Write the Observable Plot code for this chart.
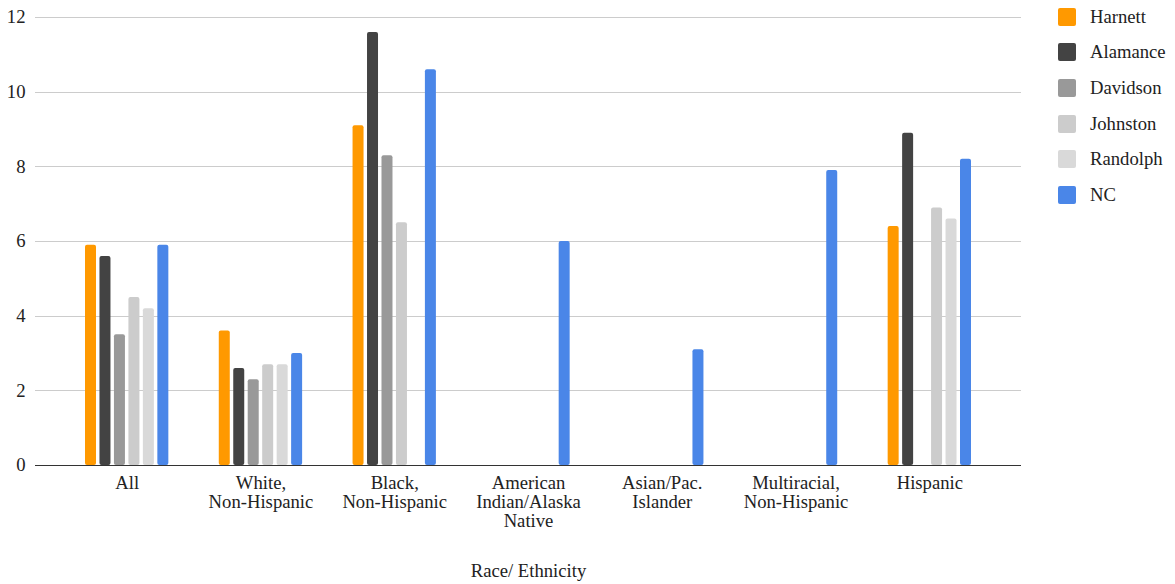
<!DOCTYPE html>
<html><head><meta charset="utf-8">
<script src="https://cdn.jsdelivr.net/npm/d3@7"></script>
<script src="https://cdn.jsdelivr.net/npm/@observablehq/plot@0.6"></script>
<style>
body{margin:0;background:#fff;font-family:"Liberation Serif","Times New Roman",Times,serif;}
#wrap{position:relative;width:1175px;height:584px;}
#legend{position:absolute;left:1058px;top:-1px;}
.item{display:flex;align-items:center;height:35.6px;font-size:18.67px;color:#222;}
.sw{width:18px;height:18px;border-radius:2px;margin-right:14px;}
</style></head><body><div id="wrap"></div>
<script>
const groups = ["All", "White,\nNon-Hispanic", "Black,\nNon-Hispanic", "American\nIndian/Alaska\nNative", "Asian/Pac.\nIslander", "Multiracial,\nNon-Hispanic", "Hispanic"];
const seriesNames = ["Harnett", "Alamance", "Davidson", "Johnston", "Randolph", "NC"];
const colors = ["#ff9900", "#434343", "#999999", "#cccccc", "#d9d9d9", "#4a86e8"];
const harnett  = [5.9, 3.6, 9.1, null, null, null, 6.4];
const alamance = [5.6, 2.6, 11.6, null, null, null, 8.9];
const davidson = [3.5, 2.3, 8.3, null, null, null, null];
const johnston = [4.5, 2.7, 6.5, null, null, null, 6.9];
const randolph = [4.2, 2.7, null, null, null, null, 6.6];
const nc       = [5.9, 3.0, 10.6, 6.0, 3.1, 7.9, 8.2];
const yTicks = [0, 2, 4, 6, 8, 10, 12];
const axisTitle = "Race/ Ethnicity";

const seriesValues = [harnett, alamance, davidson, johnston, randolph, nc];
const rows = [];
seriesNames.forEach((s, i) => {
  seriesValues[i].forEach((v, j) => {
    if (v != null) rows.push({series: s, group: groups[j], value: v});
  });
});

const serif = "'Liberation Serif', 'Times New Roman', Times, serif";
const gridExtend = -50;
const chart = Plot.plot({
  width: 1175, height: 584,
  marginLeft: 85, marginRight: 204, marginTop: 17, marginBottom: 119,
  style: {fontFamily: serif, fontSize: "18.67px", color: "#222", background: "#fff", overflow: "visible"},
  fx: {domain: groups, paddingInner: 0.377, paddingOuter: 0, round: false, label: null},
  x: {domain: seriesNames, paddingInner: 0.24, paddingOuter: 0, round: false, axis: null},
  y: {domain: [0, 12], axis: null},
  color: {domain: seriesNames, range: colors},
  marks: [
    Plot.ruleY(yTicks.filter(d => d > 0), {stroke: "#cccccc", strokeWidth: 1, insetLeft: gridExtend, insetRight: gridExtend, shapeRendering: "crispEdges"}),
    Plot.barY(rows, {fx: "group", x: "series", y: "value", fill: "series", rx: 2}),
    Plot.ruleY([0], {stroke: "#333333", strokeWidth: 1, insetLeft: gridExtend, insetRight: gridExtend, shapeRendering: "crispEdges"}),
    Plot.axisY(yTicks, {tickSize: 0, tickPadding: 60, fontSize: 18.67, fontFamily: serif, label: null}),
    Plot.axisFx({anchor: "bottom", tickSize: 0, tickPadding: 10, lineHeight: 1.02, fontFamily: serif, label: axisTitle, labelAnchor: "center", labelOffset: 111})
  ]
});
const wrap = document.getElementById("wrap");
wrap.appendChild(chart);
const legend = document.createElement("div");
legend.id = "legend";
seriesNames.forEach((s, i) => {
  const it = document.createElement("div");
  it.className = "item";
  const sw = document.createElement("div");
  sw.className = "sw";
  sw.style.background = colors[i];
  it.appendChild(sw);
  it.appendChild(document.createTextNode(s));
  legend.appendChild(it);
});
wrap.appendChild(legend);
</script></body></html>
